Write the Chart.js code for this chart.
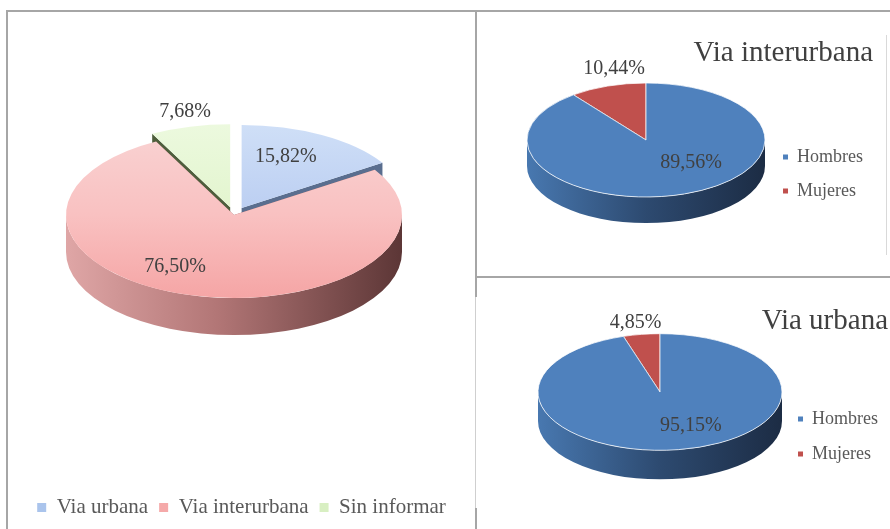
<!DOCTYPE html>
<html><head><meta charset="utf-8">
<script src="https://cdn.jsdelivr.net/npm/chart.js@4.4.0/dist/chart.umd.min.js"></script>
<style>
html,body{margin:0;padding:0;width:890px;height:529px;overflow:hidden;background:#fff;}
.line{position:absolute;background:#a6a6a6;}
canvas{position:absolute;}
</style></head><body>
<div class="line" style="left:6px;top:10px;width:884px;height:2px"></div>
<div class="line" style="left:6px;top:10px;width:2px;height:519px"></div>
<div class="line" style="left:475px;top:10px;width:2px;height:287px"></div>
<div class="line" style="left:475px;top:297px;width:1px;height:211px;background:#cfcfcf"></div>
<div class="line" style="left:475px;top:508px;width:2px;height:21px"></div>
<div class="line" style="left:476px;top:276px;width:414px;height:2px"></div>
<div class="line" style="left:886px;top:35px;width:1px;height:220px;background:#d9d9d9"></div>
<canvas id="c1" width="467" height="517" style="left:8px;top:12px"></canvas>
<canvas id="c2" width="395" height="265" style="left:478px;top:12px"></canvas>
<canvas id="c3" width="410" height="250" style="left:478px;top:279px"></canvas>
<script>
// ---- data ----
const roadLabels = ['Via urbana', 'Via interurbana', 'Sin informar'];
const roadValues = [15.82, 76.50, 7.68];
const genderLabels = ['Hombres', 'Mujeres'];
const interurbanaValues = [89.56, 10.44];
const urbanaValues = [95.15, 4.85];
const titleInterurbana = 'Via interurbana';
const titleUrbana = 'Via urbana';

const SERIF = "'Liberation Serif', 'Times New Roman', serif";
const fmt = v => v.toFixed(2).replace('.', ',') + '%';

// 3D pie plugin: draws library arcs squashed + extruded
const pie3d = {
  id: 'pie3d',
  beforeDatasetsDraw(chart, args, o) {
    const ctx = chart.ctx;
    const meta = chart.getDatasetMeta(0);
    const ds = chart.data.datasets[0];
    const t = o.tilt, d = o.depth;
    const items = meta.data.map((arc, i) => {
      const mid = (arc.startAngle + arc.endAngle) / 2;
      const e = (o.explode && o.explode[i]) || 0;
      return {arc, i, mid, ex: e * Math.cos(mid), ey: e * Math.sin(mid) * t};
    });
    items.sort((a, b) => (a.ey + Math.sin(a.mid)) - (b.ey + Math.sin(b.mid)));
    for (const it of items) {
      const arc = it.arc, R = arc.outerRadius;
      const cx = o.cx + it.ex, cy = o.cy + it.ey;
      ctx.fillStyle = o.wall[it.i];
      for (const a of [arc.startAngle, arc.endAngle]) {
        const px = cx + R * Math.cos(a), py = cy + t * R * Math.sin(a);
        ctx.beginPath();
        ctx.moveTo(cx, cy); ctx.lineTo(px, py); ctx.lineTo(px, py + d); ctx.lineTo(cx, cy + d);
        ctx.closePath(); ctx.fill();
      }
      const s = Math.max(arc.startAngle, 0), e = Math.min(arc.endAngle, Math.PI);
      if (e > s) {
        const g = ctx.createLinearGradient(cx - R, 0, cx + R, 0);
        o.side[it.i].forEach(st => g.addColorStop(st[0], st[1]));
        ctx.beginPath();
        ctx.ellipse(cx, cy, R, R * t, 0, s, e, false);
        ctx.lineTo(cx + R * Math.cos(e), cy + t * R * Math.sin(e) + d);
        ctx.ellipse(cx, cy + d, R, R * t, 0, e, s, true);
        ctx.closePath();
        ctx.fillStyle = g; ctx.fill();
      }
      ctx.save();
      ctx.translate(cx, cy); ctx.scale(1, t); ctx.translate(-arc.x, -arc.y);
      arc.draw(ctx);
      ctx.restore();
    }
    ctx.save();
    ctx.font = o.labelFont; ctx.fillStyle = o.labelColor;
    ctx.textAlign = 'center'; ctx.textBaseline = 'middle';
    meta.data.forEach((arc, i) => {
      const a = (arc.startAngle + arc.endAngle) / 2 + o.labelNudge[i] * Math.PI / 180;
      const r = arc.outerRadius * o.labelR[i];
      ctx.fillText(fmt(ds.data[i]), o.cx + r * Math.cos(a), o.cy + t * r * Math.sin(a));
    });
    ctx.restore();
    return false;
  }
};

const roadFaceStops = [
  ['#cfdff7', '#bccff2', '#a7c1ec'],
  ['#f9d2d2', '#f9c1c1', '#f5a5a5'],
  ['#ecf9de', '#e3f5cf', '#d6eebe']
];
function faceGradient(c) {
  const stops = roadFaceStops[c.dataIndex] || roadFaceStops[0];
  const area = c.chart.chartArea;
  const R = c.dataset.radius;
  if (!area) return stops[1];
  const cy = (area.top + area.bottom) / 2;
  const g = c.chart.ctx.createLinearGradient(0, cy - R, 0, cy + R);
  stops.forEach((s, k) => g.addColorStop(k / (stops.length - 1), s));
  return g;
}

function legendGen(colors) {
  return (chart) => Chart.overrides.doughnut.plugins.legend.labels.generateLabels(chart)
    .map((it, i) => Object.assign(it, {fillStyle: colors[i], strokeStyle: colors[i], lineWidth: 0}));
}

Chart.defaults.font.family = SERIF;
Chart.defaults.animation = false;

new Chart(document.getElementById('c1'), {
  type: 'pie',
  data: {
    labels: roadLabels,
    datasets: [{ data: roadValues, radius: 168, borderWidth: 0, backgroundColor: faceGradient }]
  },
  options: {
    responsive: false, events: [],
    layout: {padding: {bottom: 1}},
    plugins: {
      tooltip: {enabled: false},
      legend: {position: 'bottom', labels: {boxWidth: 9, boxHeight: 9, padding: 11, color: '#595959',
        font: {family: SERIF, size: 21}, generateLabels: legendGen(['#aac4ec', '#f5a9a9', '#d8efc2'])}},
      pie3d: {
        cx: 226, cy: 203, tilt: 0.494, depth: 37, explode: [16, 0, 16],
        wall: ['#5a6e8f', '#9c5f5f', '#4e5e3c'],
        side: [[[0, '#6c84aa'], [1, '#3e5070']], [[0, '#dfa6a6'], [0.45, '#b27676'], [1, '#5c3636']], [[0, '#6b8257'], [1, '#44543a']]],
        labelR: [0.764, 0.718, 1.275], labelNudge: [-4.6, 14.6, 0.6],
        labelFont: '20px ' + SERIF, labelColor: '#404040'
      }
    }
  },
  plugins: [pie3d]
});

function genderChart(id, values, title, titlePad, legendPad, pie) {
  return new Chart(document.getElementById(id), {
    type: 'pie',
    data: {
      labels: genderLabels,
      datasets: [{ data: values, radius: pie.R, borderWidth: 1, borderColor: '#ffffff',
        backgroundColor: ['#4f81bd', '#c0504d'] }]
    },
    options: {
      responsive: false, events: [],
      plugins: {
        tooltip: {enabled: false},
        title: {display: true, text: title, align: 'end', color: '#404040',
          font: {family: SERIF, size: 29, weight: 'normal'}, padding: titlePad},
        legend: {position: 'right', fullSize: false, labels: {boxWidth: 5, boxHeight: 5, padding: legendPad, color: '#595959',
          font: {family: SERIF, size: 18}, generateLabels: legendGen(['#4f81bd', '#c0504d'])}},
        pie3d: {
          cx: pie.cx, cy: pie.cy, tilt: pie.tilt, depth: pie.depth, explode: [0, 0],
          wall: ['#2c4a70', '#7d3331'],
          side: [[[0, '#4878b0'], [0.5, '#2d4a70'], [1, '#1c2c44']], [[0, '#a04440'], [1, '#6a2b29']]],
          labelR: pie.labelR, labelNudge: pie.labelNudge,
          labelFont: '20px ' + SERIF, labelColor: '#404040'
        }
      }
    },
    plugins: [pie3d]
  });
}

genderChart('c2', interurbanaValues, titleInterurbana, {top: 24, bottom: 0}, 16,
  {R: 119, cx: 168, cy: 128, tilt: 0.479, depth: 26, labelR: [0.553, 1.274], labelNudge: [-24.4, 6.6]});
genderChart('c3', urbanaValues, titleUrbana, {top: 25, bottom: 5}, 17,
  {R: 122, cx: 182, cy: 113, tilt: 0.478, depth: 29, labelR: [0.625, 1.21], labelNudge: [-15.1, -0.8]});
</script>
</body></html>
